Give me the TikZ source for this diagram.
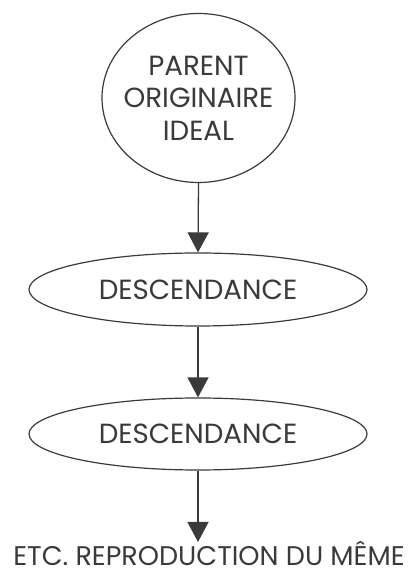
\documentclass[tikz,border=0pt]{standalone}
\usepackage{fontspec}
\setmainfont{Poppins}
\usetikzlibrary{shapes.geometric,arrows.meta}
\definecolor{ink}{HTML}{3A3A3C}
\begin{document}
\begin{tikzpicture}[x=1pt,y=1pt,
  shape line/.style={draw=ink, line width=1.2pt},
  lbl/.style={text=ink, font=\fontsize{27.7}{32.5}\selectfont, align=center},
  conn/.style={draw=ink, line width=1.3pt, -{Triangle[width=21pt,length=20pt]}}]
\useasboundingbox (0,0) rectangle (409,569);
\node[shape line, ellipse, minimum width=193pt, minimum height=169pt, inner sep=0pt] (parent) at (198.5,471) {};
\node[lbl] (ptext) at (198.5,471) {PARENT\\ORIGINAIRE\\IDEAL};
\node[shape line, ellipse, minimum width=338pt, minimum height=73pt, inner sep=0pt, lbl] (d1) at (198,279.5) {DESCENDANCE};
\node[shape line, ellipse, minimum width=338pt, minimum height=72pt, inner sep=0pt, lbl] (d2) at (198,135) {DESCENDANCE};
\node[lbl, font=\fontsize{27}{32.5}\selectfont, anchor=base, inner sep=0pt, text depth=0pt] (etc) at (209,3) {ETC. REPRODUCTION DU MÊME};
\coordinate (tip) at (198,27);
\draw[conn] (parent.south) -- (d1.north);
\draw[conn] (d1.south) -- (d2.north);
\draw[conn] (d2.south) -- (tip);
\end{tikzpicture}
\end{document}
